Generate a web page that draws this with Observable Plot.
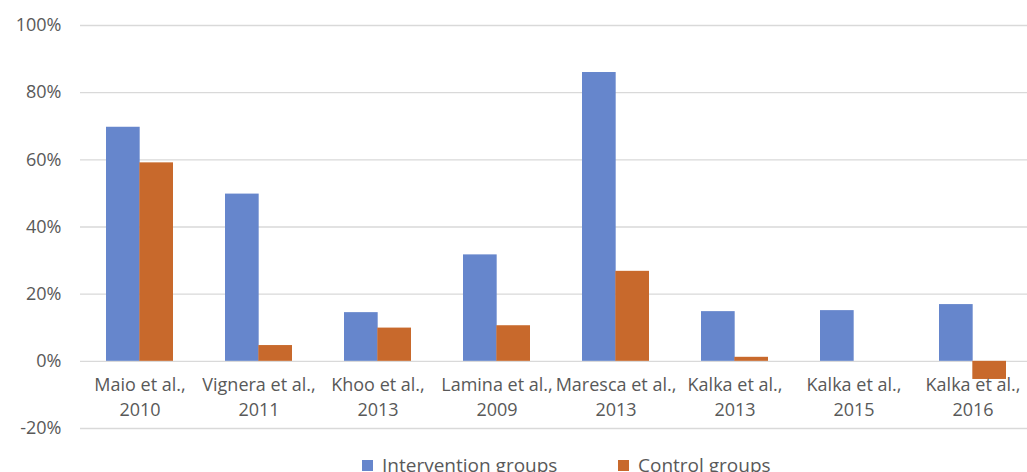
<!DOCTYPE html>
<html><head><meta charset="utf-8">
<script src="https://cdn.jsdelivr.net/npm/d3@7"></script>
<script src="https://cdn.jsdelivr.net/npm/@observablehq/plot@0.6"></script>
<style>
body{margin:0;background:#fff;font-family:"Open Sans",sans-serif;overflow:hidden}
#legend{position:relative;height:32px;color:#595959;font-size:19px}
.item{position:absolute;top:12px;display:flex;align-items:center;white-space:nowrap;line-height:26px}
.sw{width:11px;height:11px;margin-right:9px}
</style>
</head><body><div id="chart"></div><div id="legend"></div><script>
const studies = ["Maio 2010","Vignera 2011","Khoo 2013","Lamina 2009","Maresca 2013","Kalka 2013","Kalka 2015","Kalka 2016"];
const studyLabels = ["Maio et al.,\n2010","Vignera et al.,\n2011","Khoo et al.,\n2013","Lamina et al.,\n2009","Maresca et al.,\n2013","Kalka et al.,\n2013","Kalka et al.,\n2015","Kalka et al.,\n2016"];
const intervention = [0.697, 0.498, 0.145, 0.317, 0.860, 0.148, 0.151, 0.169];
const control = [0.591, 0.047, 0.099, 0.106, 0.268, 0.012, null, -0.054];
const yTicks = [-0.2, 0, 0.2, 0.4, 0.6, 0.8, 1.0];
const seriesNames = ["Intervention groups", "Control groups"];
const seriesColors = ["#6686cc", "#c8692c"];

const rowsI = studies.map((s, i) => ({study: s, value: intervention[i]}));
const rowsC = studies.map((s, i) => ({study: s, value: control[i]})).filter(d => d.value != null);
const labelRows = studies.map((s, i) => ({study: s, label: studyLabels[i]}));

const half = 952 / 8 * 0.56 / 2;

const chart = Plot.plot({
  width: 1027,
  height: 440,
  marginTop: 25,
  marginBottom: 12,
  marginLeft: 80,
  marginRight: 0,
  style: {fontFamily: "'Open Sans', sans-serif", background: "#fff"},
  x: {type: "band", domain: studies, range: [80, 1032], paddingInner: 0.44, paddingOuter: 0.22, axis: null},
  y: {domain: [-0.2, 1.0], ticks: yTicks, axis: null},
  marks: [
    Plot.gridY(yTicks, {stroke: "#d9d9d9", strokeOpacity: 1, strokeWidth: 1.3}),
    Plot.axisY(yTicks, {tickSize: 0, tickPadding: 19, label: null, tickFormat: d => Math.round(d * 100) + "%", fontSize: 18, fill: "#595959"}),
    Plot.barY(rowsI, {x: "study", y: "value", fill: seriesColors[0], insetRight: half}),
    Plot.barY(rowsC, {x: "study", y: "value", fill: seriesColors[1], insetLeft: half}),
    Plot.text(labelRows, {x: "study", y: () => 0, text: "label", lineAnchor: "top", dy: 12, lineHeight: 1.39, fontSize: 18, fill: "#595959"})
  ]
});
document.getElementById("chart").appendChild(chart);

const legend = document.getElementById("legend");
const lefts = [362, 618];
seriesNames.forEach((name, i) => {
  const it = document.createElement("div");
  it.className = "item";
  it.style.left = lefts[i] + "px";
  it.innerHTML = `<span class="sw" style="background:${seriesColors[i]}"></span><span>${name}</span>`;
  legend.appendChild(it);
});
</script></body></html>
